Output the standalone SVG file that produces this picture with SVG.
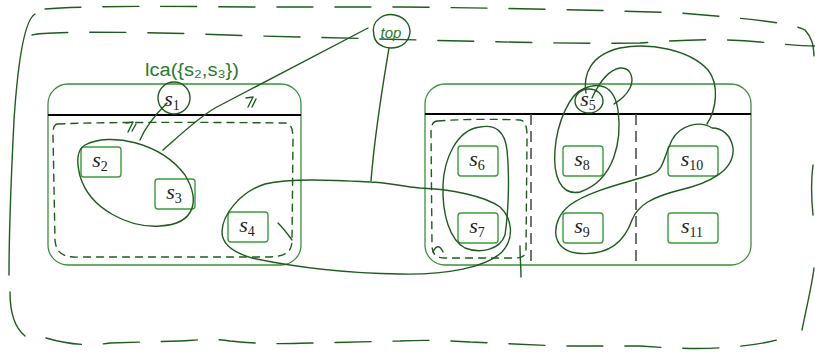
<svg xmlns="http://www.w3.org/2000/svg" width="815" height="353" viewBox="0 0 815 353">
<style>
.box{fill:none;stroke:#3d8f3d;stroke-width:1.3}
.node rect{fill:#fff;stroke:#3d9a3d;stroke-width:1.4}
.lbl{font-family:"Liberation Serif",serif;font-style:italic;font-size:22px;fill:#222}
.sub{font-style:normal;font-size:14px}
.ink{fill:none;stroke:#1d5c1d;stroke-width:1.4;stroke-linecap:round;stroke-linejoin:round}
.dash{stroke-dasharray:36 22}
.sdash{stroke-dasharray:7 6}
.hw{font-family:"Liberation Sans",sans-serif;fill:#2a7a2a}
</style>
<rect width="815" height="353" fill="#fff"/>

<!-- containers -->
<g id="left-container">
<rect class="box" x="48" y="84" width="253" height="181" rx="20"/>
<line x1="48" y1="115" x2="301" y2="115" stroke="#000" stroke-width="2.2"/>
</g>
<g id="right-container">
<rect class="box" x="425" y="84" width="326" height="181" rx="20"/>
<line x1="425" y1="114" x2="751" y2="114" stroke="#000" stroke-width="2.2"/>
<line x1="531" y1="114" x2="531" y2="265" stroke="#444" stroke-width="1.5" stroke-dasharray="11 6"/>
<line x1="636" y1="114" x2="636" y2="265" stroke="#444" stroke-width="1.5" stroke-dasharray="11 6"/>
</g>

<!-- nodes -->
<g id="s1" class="node"><text class="lbl" x="172" y="106" text-anchor="middle">s<tspan class="sub" dy="4">1</tspan></text></g>
<g id="s2" class="node"><rect x="81" y="147" width="40" height="30" rx="3"/><text class="lbl" x="100" y="167" text-anchor="middle">s<tspan class="sub" dy="4">2</tspan></text></g>
<g id="s3" class="node"><rect x="155" y="179" width="40" height="30" rx="3"/><text class="lbl" x="174" y="199" text-anchor="middle">s<tspan class="sub" dy="4">3</tspan></text></g>
<g id="s4" class="node"><rect x="228" y="212" width="40" height="30" rx="3"/><text class="lbl" x="247" y="232" text-anchor="middle">s<tspan class="sub" dy="4">4</tspan></text></g>
<g id="s5" class="node"><text class="lbl" x="588" y="106" text-anchor="middle">s<tspan class="sub" dy="4">5</tspan></text></g>
<g id="s6" class="node"><rect x="458" y="146" width="40" height="30" rx="3"/><text class="lbl" x="477" y="166" text-anchor="middle">s<tspan class="sub" dy="4">6</tspan></text></g>
<g id="s7" class="node"><rect x="458" y="213" width="40" height="30" rx="3"/><text class="lbl" x="477" y="233" text-anchor="middle">s<tspan class="sub" dy="4">7</tspan></text></g>
<g id="s8" class="node"><rect x="563" y="146" width="40" height="30" rx="3"/><text class="lbl" x="582" y="166" text-anchor="middle">s<tspan class="sub" dy="4">8</tspan></text></g>
<g id="s9" class="node"><rect x="563" y="213" width="40" height="30" rx="3"/><text class="lbl" x="582" y="233" text-anchor="middle">s<tspan class="sub" dy="4">9</tspan></text></g>
<g id="s10" class="node"><rect x="668" y="146" width="50" height="30" rx="3"/><text class="lbl" x="692" y="166" text-anchor="middle">s<tspan class="sub" dy="4">10</tspan></text></g>
<g id="s11" class="node"><rect x="668" y="213" width="50" height="30" rx="3"/><text class="lbl" x="692" y="233" text-anchor="middle">s<tspan class="sub" dy="4">11</tspan></text></g>

<!-- handwritten annotations -->
<g id="annotations">
<!-- outer dashed boundary -->
<path class="ink dash" d="M45,9 C80,6 150,6 250,7 L400,7 C500,8 600,10 680,13 C740,18 790,22 805,30 C812,38 814,45 814,60"/>
<path class="ink dash" d="M32,35 C40,32 100,31 200,34 C280,37 350,38 420,40 C500,42 580,44 640,43 C680,40 720,38 760,42 C790,45 805,46 815,46"/>
<path class="ink" d="M35,14 C25,20 18,60 14,120 C11,180 9,230 9,275"/>
<path class="ink" d="M10,292 C10,315 15,328 25,336"/>
<path class="ink dash" d="M46,338 C70,345 90,346 110,343 L180,341 C200,340 210,338 230,341 C260,344 280,344 310,343 L400,341 C420,340 440,340 470,342 L560,346 L640,346 C670,348 700,350 730,347 C760,345 780,340 792,335"/>
<path class="ink" d="M814,268 C812,285 808,300 802,330"/>
<path class="ink" d="M813,165 C811,180 811,195 813,215"/>

<!-- lca label -->
<text class="hw" x="145" y="76" font-size="18" textLength="94" lengthAdjust="spacingAndGlyphs">lca({s₂,s₃})</text>

<!-- top circle -->
<path class="ink" d="M380,18 C388,12 402,14 408,24 C413,33 408,44 398,47 C388,50 376,46 374,36 C372,28 374,22 380,18 Z"/>
<text class="hw" x="391" y="38" font-size="15" font-style="italic" fill="#1d5c1d" text-anchor="middle">top</text>

<!-- s1 circle -->
<ellipse class="ink" cx="174" cy="98" rx="16" ry="16"/>
<!-- s2 s3 ellipse -->
<path class="ink" d="M85,145 C110,132 160,142 185,175 C200,200 196,224 160,226 C130,228 90,210 80,176 C76,160 78,149 85,145 Z"/>
<!-- s4 s7 loop -->
<path class="ink" d="M370,182 C330,180 290,178 265,184 C240,192 222,215 222,232 C222,245 235,253 252,258 C285,265 340,273 400,274 C445,275 485,268 502,252 C515,238 512,218 500,207 C485,196 450,189 420,188 C400,186 385,182 370,182 Z"/>
<!-- s6 s7 loop -->
<path class="ink" d="M480,127 C496,124 505,132 507,150 C510,180 508,215 505,235 C500,250 480,254 465,248 C450,240 442,215 443,185 C444,160 456,130 480,127 Z"/>
<!-- s5 circle -->
<ellipse class="ink" cx="589" cy="101" rx="14" ry="12"/>
<!-- s5 s8 loop -->
<path class="ink" d="M583,89 C598,82 614,84 618,110 C622,140 615,180 580,192 C560,196 553,175 555,150 C557,122 570,94 583,89 Z"/>
<!-- small loop above s5 -->
<path class="ink" d="M592,98 C598,85 608,70 620,68 C632,67 634,80 630,88 C626,96 620,100 614,104"/>
<!-- big loop from s5 over to s10 -->
<path class="ink" d="M586,93 C583,75 590,55 620,48 C650,42 690,50 708,70 C720,85 716,110 707,124"/>
<!-- s9 s10 loop -->
<path class="ink" d="M712,128 C700,120 680,125 672,140 C662,160 665,170 650,175 C630,182 590,190 570,205 C550,220 550,250 576,253 C610,257 625,240 632,220 C638,205 652,197 680,190 C710,183 735,170 733,148 C731,135 722,128 712,128 Z"/>

<!-- dashed inner rects -->
<path class="ink sdash" d="M58,124 C100,122 200,122 285,123 C292,124 293,130 293,140 L292,240 C292,252 286,256 270,257 L80,257 C62,258 56,252 55,240 L53,135 C53,128 54,124 58,124 Z"/>
<path class="ink" d="M278,223 C283,228 287,233 292,240"/>
<path class="ink sdash" d="M438,121 C460,119 500,119 520,120 C527,121 527,130 527,140 L526,250 C526,256 522,258 515,258 L445,258 C436,258 432,254 432,245 L431,132 C431,125 433,121 438,121 Z"/>
<path class="ink" d="M433,252 C436,245 440,245 443,252"/>
<path class="ink" d="M520,246 C520,258 521,268 521,277"/>

<!-- connectors to top -->
<path class="ink" d="M167,103 C155,115 145,128 140,140"/>
<path class="ink" d="M163,150 C180,135 198,118 215,108 L368,28"/>
<path class="ink" d="M389,48 C382,90 375,130 371,181"/>

<!-- marks -->
<path class="ink" d="M246,98 L253,97 L248,107 M256,99 L252,107"/>
<path class="ink" d="M126,123 L133,122 L128,132 M136,124 L132,131"/>
</g>
</svg>
